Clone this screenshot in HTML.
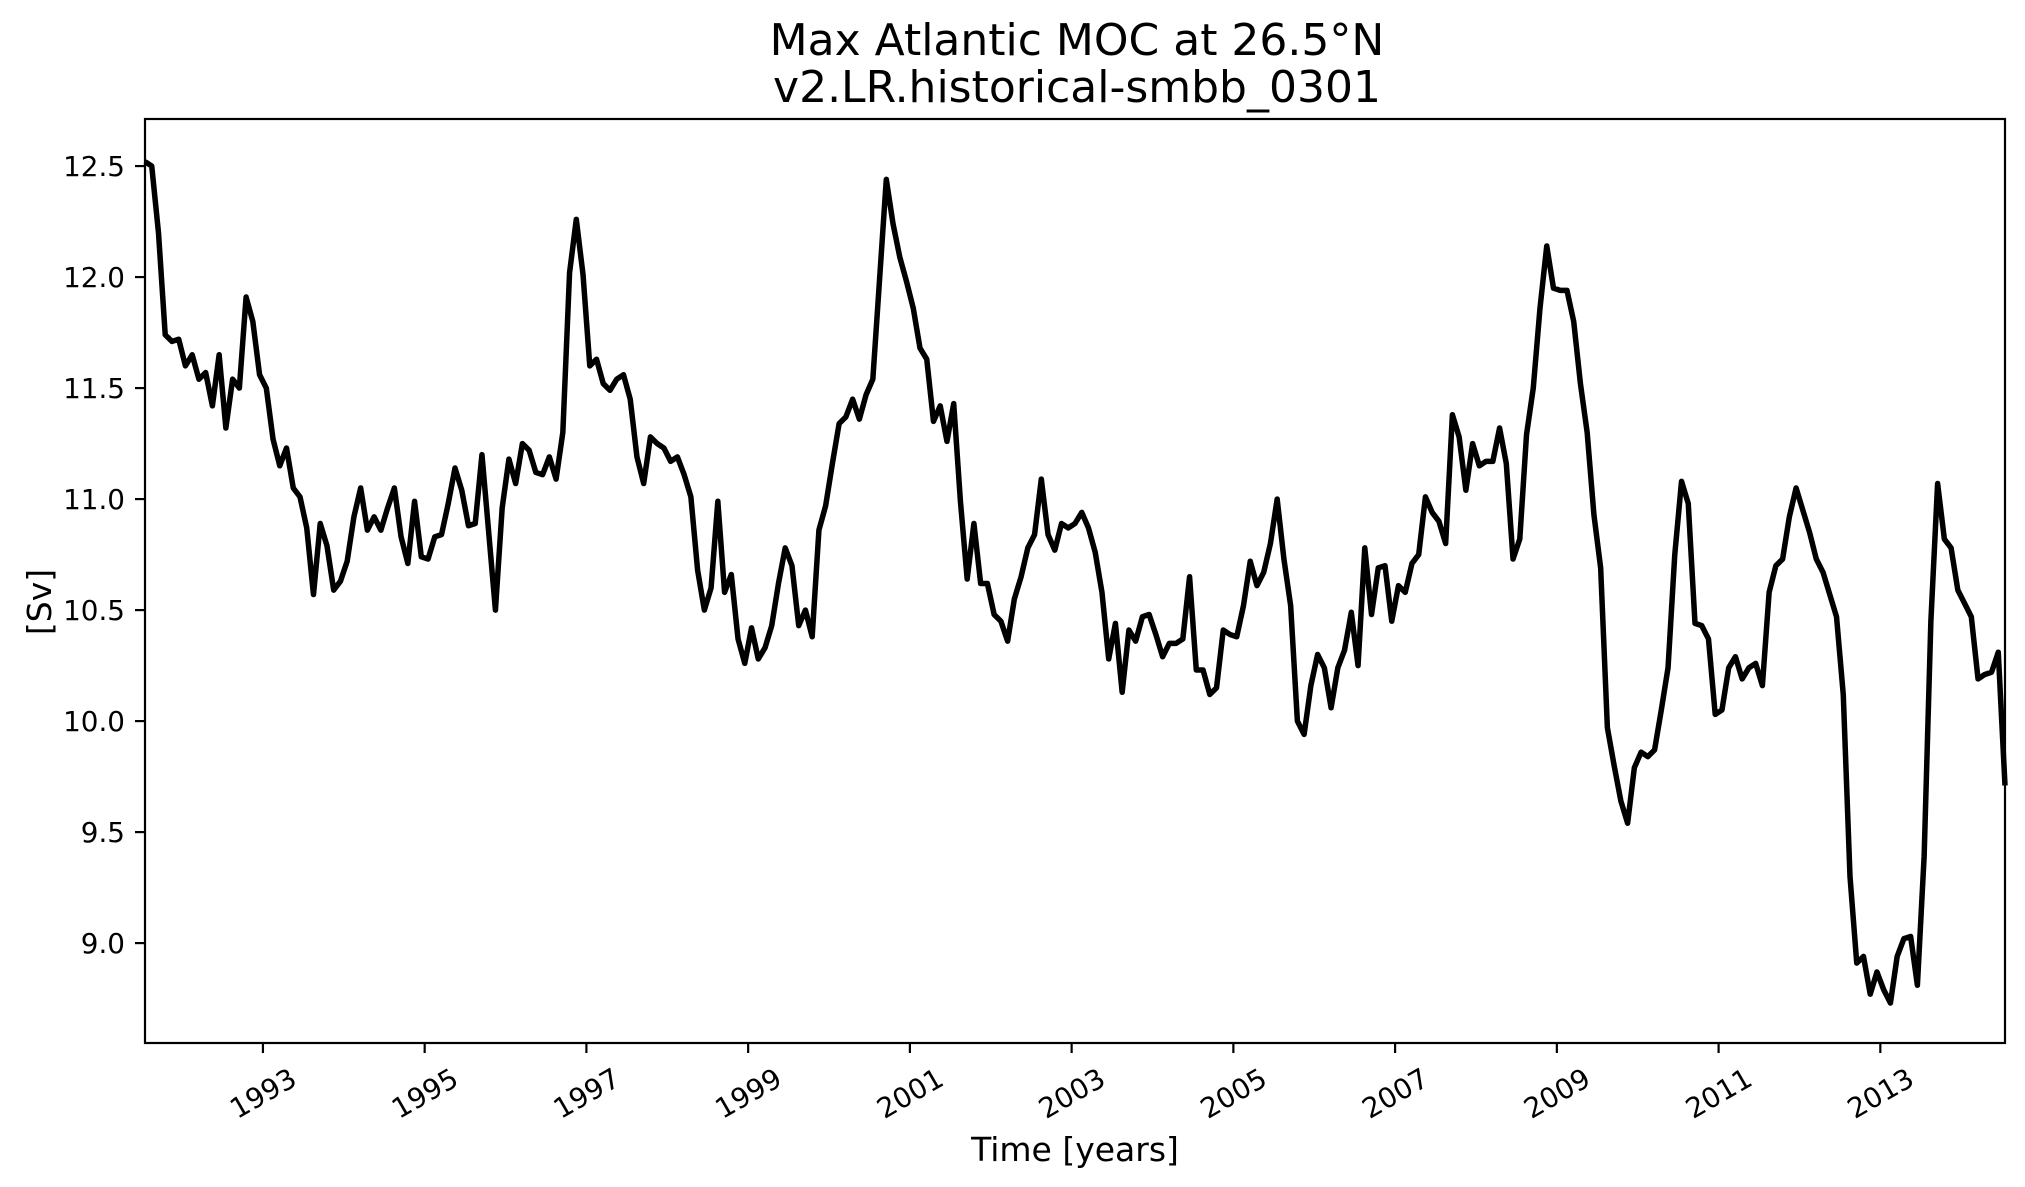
<!DOCTYPE html>
<html><head><meta charset="utf-8">
<style>
html,body{margin:0;padding:0;background:#fff;}
svg{display:block;font-family:"DejaVu Sans","Liberation Sans",sans-serif;}
</style></head>
<body>
<svg id="chart" width="2025" height="1187" viewBox="0 0 2025 1187" xmlns="http://www.w3.org/2000/svg">
<rect x="0" y="0" width="2025" height="1187" fill="#fff"/>
<text x="1077" y="55" font-size="44" text-anchor="middle">Max Atlantic MOC at 26.5°N</text>
<text x="1077" y="102" font-size="44" text-anchor="middle">v2.LR.historical-smbb_0301</text>
<g id="plot"></g>
<text x="1075" y="1161" font-size="33" text-anchor="middle">Time [years]</text>
<text x="0" y="0" font-size="33" text-anchor="middle" transform="translate(51,602) rotate(-90)">[Sv]</text>
</svg>
<script>
const startYear = 1991 + 6.5/12;
const values = [12.52,12.50,12.20,11.74,11.71,11.72,11.60,11.65,11.54,11.57,11.42,11.65,11.32,11.54,11.50,11.91,11.80,11.56,11.50,11.27,
11.15,11.23,11.05,11.01,10.87,10.57,10.89,10.79,10.59,10.63,10.72,10.92,11.05,10.86,10.92,10.86,10.96,11.05,10.83,10.71,
10.99,10.74,10.73,10.83,10.84,10.98,11.14,11.04,10.88,10.89,11.20,10.85,10.50,10.96,11.18,11.07,11.25,11.22,11.12,11.11,
11.19,11.09,11.30,12.02,12.26,12.01,11.60,11.63,11.52,11.49,11.54,11.56,11.45,11.19,11.07,11.28,11.25,11.23,11.17,11.19,
11.11,11.01,10.68,10.50,10.60,10.99,10.58,10.66,10.37,10.26,10.42,10.28,10.33,10.43,10.62,10.78,10.70,10.43,10.50,10.38,
10.86,10.97,11.16,11.34,11.37,11.45,11.36,11.47,11.54,11.99,12.44,12.24,12.09,11.98,11.86,11.68,11.63,11.35,11.42,11.26,
11.43,10.99,10.64,10.89,10.62,10.62,10.48,10.45,10.36,10.55,10.65,10.78,10.84,11.09,10.84,10.77,10.89,10.87,10.89,10.94,
10.87,10.76,10.58,10.28,10.44,10.13,10.41,10.36,10.47,10.48,10.39,10.29,10.35,10.35,10.37,10.65,10.23,10.23,10.12,10.15,
10.41,10.39,10.38,10.52,10.72,10.61,10.67,10.80,11.00,10.73,10.52,10.00,9.94,10.16,10.30,10.24,10.06,10.24,10.32,10.49,
10.25,10.78,10.48,10.69,10.70,10.45,10.61,10.58,10.71,10.75,11.01,10.94,10.90,10.80,11.38,11.28,11.04,11.25,11.15,11.17,
11.17,11.32,11.16,10.73,10.82,11.29,11.50,11.86,12.14,11.95,11.94,11.94,11.80,11.52,11.30,10.93,10.69,9.97,9.80,9.64,
9.54,9.79,9.86,9.84,9.87,10.05,10.24,10.75,11.08,10.98,10.44,10.43,10.37,10.03,10.05,10.24,10.29,10.19,10.24,10.26,
10.16,10.58,10.70,10.73,10.92,11.05,10.95,10.85,10.73,10.67,10.57,10.47,10.12,9.30,8.91,8.94,8.77,8.87,8.79,8.73,
8.94,9.02,9.03,8.81,9.39,10.45,11.07,10.82,10.78,10.59,10.53,10.47,10.19,10.21,10.22,10.31,9.71];
const yTicks = [9.0,9.5,10.0,10.5,11.0,11.5,12.0,12.5];
const xTickYears = [1993,1995,1997,1999,2001,2003,2005,2007,2009,2011,2013];

const NS = "http://www.w3.org/2000/svg";
const L = 145, R = 2005, T = 119, B = 1043;
const yMin = 8.550, yMax = 12.712;
const tEnd = startYear + (values.length - 1) / 12;
function xScale(t){ return L + (t - startYear) / (tEnd - startYear) * (R - L); }
function yScale(v){ return B - (v - yMin) / (yMax - yMin) * (B - T); }
const plot = document.getElementById('plot');
function mk(tag, attrs){ const e = document.createElementNS(NS, tag); for (const k in attrs) e.setAttribute(k, attrs[k]); plot.appendChild(e); return e; }

let d = '';
values.forEach((v, i) => { const t = startYear + i/12; d += (i ? 'L' : 'M') + xScale(t).toFixed(2) + ' ' + yScale(v).toFixed(2); });
const line = mk('path', {d: d, fill: 'none', stroke: '#000', 'stroke-width': 5.5, 'stroke-linejoin': 'round', 'stroke-linecap': 'butt'});



const frame = mk('rect', {x: L, y: T, width: R - L, height: B - T, fill: 'none', stroke: '#000', 'stroke-width': 2.2});



yTicks.forEach(v => {
  const y = yScale(v);
  const tk = mk('line', {x1: L - 10, x2: L, y1: y, y2: y, stroke: '#000', 'stroke-width': 2.2});
  
  
  const tx = mk('text', {x: L - 20, y: y + 10, 'font-size': 27.8, 'text-anchor': 'end'});
  tx.textContent = v.toFixed(1);
  
  
});

xTickYears.forEach(yr => {
  const x = xScale(yr);
  const tk = mk('line', {x1: x, x2: x, y1: B, y2: B + 10, stroke: '#000', 'stroke-width': 2.2});
  
  
  const tx = mk('text', {x: 0, y: 10, 'font-size': 27.8, 'text-anchor': 'middle', transform: 'translate(' + x.toFixed(2) + ',1093) rotate(-30)'});
  tx.textContent = String(yr);
  
  
});
</script>
</body></html>
